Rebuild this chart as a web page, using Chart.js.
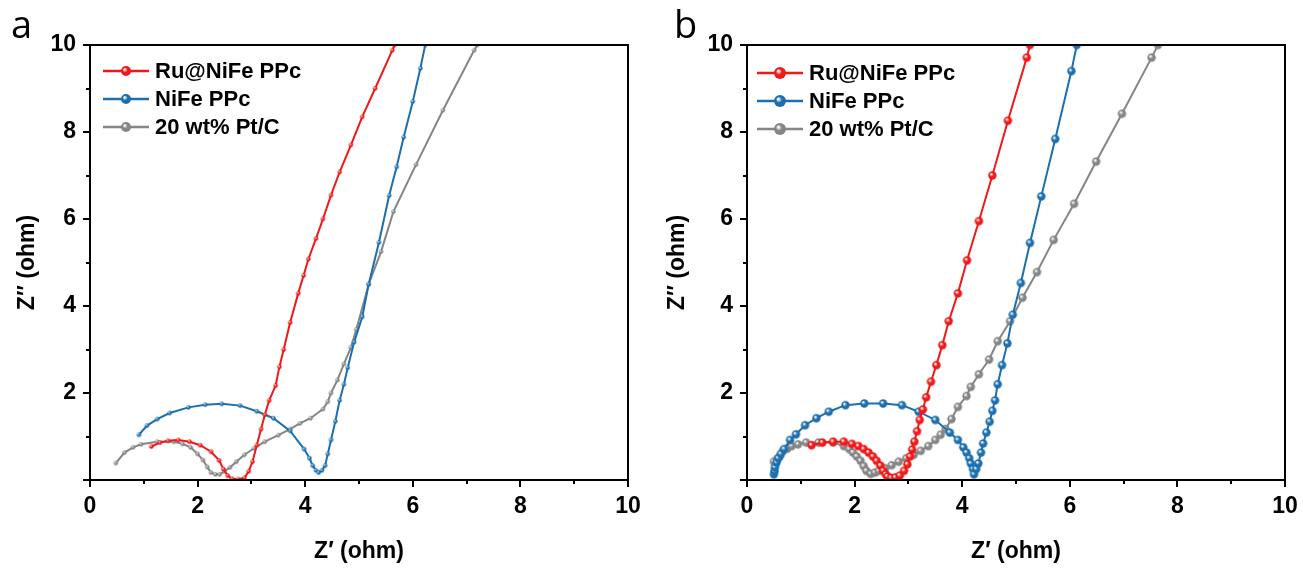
<!DOCTYPE html>
<html lang="en">
<head>
  <meta charset="UTF-8">
  <title>Nyquist plots</title>
  <script src="https://cdn.jsdelivr.net/npm/chart.js"></script>
  <style>
    body { margin: 0; background: #fff; }
    .panel { position: absolute; top: 0; height: 568px; }
    #panelA { left: 0; width: 650px; }
    #panelB { left: 650px; width: 653px; }
  </style>
</head>
<body>
  <div class="panel" id="panelA"><canvas id="chartA"></canvas></div>
  <div class="panel" id="panelB"><canvas id="chartB"></canvas></div>

  <script>
    // series names and colours
    const seriesNames = ['Ru@NiFe PPc', 'NiFe PPc', '20 wt% Pt/C'];
    const seriesColors = ['#f01818', '#1c6fae', '#858585'];
    const xTickLabels = [0, 2, 4, 6, 8, 10];
    const yTickLabels = [2, 4, 6, 8, 10];

    // panel a
    const redAX = [1.14, 1.3, 1.45, 1.64, 1.85, 2.05, 2.25, 2.4, 2.48, 2.56, 2.64, 2.75, 2.87, 2.95, 3.02, 3.1, 3.18, 3.25, 3.33, 3.45, 3.52, 3.6, 3.72, 3.87, 3.97, 4.06, 4.2, 4.33, 4.48, 4.64, 4.85, 5.06, 5.3, 5.62, 5.66];
    const redAY = [0.77, 0.86, 0.9, 0.92, 0.88, 0.8, 0.65, 0.45, 0.25, 0.1, 0.03, 0.02, 0.05, 0.2, 0.42, 0.8, 1.17, 1.5, 1.83, 2.17, 2.6, 3.0, 3.62, 4.29, 4.7, 5.08, 5.55, 6.0, 6.55, 7.08, 7.7, 8.35, 9.0, 9.88, 10.0];
    const blueAX = [0.91, 1.06, 1.25, 1.48, 1.83, 2.14, 2.45, 2.79, 3.1, 3.41, 3.72, 3.98, 4.08, 4.14, 4.2, 4.25, 4.31, 4.37, 4.42, 4.48, 4.56, 4.64, 4.72, 4.79, 4.91, 5.06, 5.18, 5.37, 5.56, 5.7, 5.83, 6.0, 6.14, 6.23];
    const blueAY = [1.04, 1.25, 1.4, 1.54, 1.67, 1.73, 1.75, 1.71, 1.58, 1.42, 1.13, 0.71, 0.5, 0.33, 0.22, 0.17, 0.22, 0.33, 0.6, 0.92, 1.35, 1.83, 2.2, 2.58, 3.17, 3.75, 4.5, 5.46, 6.54, 7.2, 7.88, 8.7, 9.46, 10.0];
    const grayAX = [0.48, 0.64, 0.8, 0.95, 1.25, 1.56, 1.72, 1.87, 2.0, 2.1, 2.18, 2.25, 2.33, 2.41, 2.5, 2.6, 2.72, 2.87, 3.05, 3.25, 3.5, 3.72, 3.9, 4.1, 4.33, 4.42, 4.48, 4.6, 4.72, 4.85, 4.95, 5.18, 5.41, 5.64, 6.06, 6.56, 7.14, 7.2];
    const grayAY = [0.39, 0.63, 0.75, 0.82, 0.88, 0.88, 0.83, 0.75, 0.6, 0.46, 0.3, 0.17, 0.13, 0.13, 0.2, 0.29, 0.42, 0.58, 0.73, 0.88, 1.03, 1.17, 1.3, 1.42, 1.63, 1.8, 2.0, 2.3, 2.67, 3.05, 3.46, 4.5, 5.25, 6.17, 7.25, 8.5, 9.88, 10.0];

    // panel b
    const redBX = [1.2, 1.4, 1.6, 1.8, 1.95, 2.07, 2.17, 2.26, 2.34, 2.41, 2.48, 2.53, 2.58, 2.61, 2.68, 2.76, 2.84, 2.92, 2.98, 3.03, 3.07, 3.11, 3.16, 3.21, 3.27, 3.33, 3.42, 3.52, 3.63, 3.75, 3.92, 4.09, 4.31, 4.56, 4.85, 5.2, 5.26];
    const redBY = [0.8, 0.86, 0.88, 0.88, 0.83, 0.78, 0.71, 0.63, 0.54, 0.44, 0.33, 0.21, 0.13, 0.08, 0.05, 0.06, 0.1, 0.21, 0.36, 0.54, 0.7, 0.88, 1.12, 1.38, 1.62, 1.9, 2.26, 2.64, 3.1, 3.65, 4.29, 5.05, 5.95, 7.0, 8.26, 9.71, 10.0];
    const blueBX = [0.5, 0.51, 0.52, 0.55, 0.58, 0.63, 0.69, 0.8, 0.91, 1.08, 1.29, 1.52, 1.83, 2.18, 2.53, 2.88, 3.19, 3.5, 3.77, 3.92, 4.02, 4.08, 4.13, 4.16, 4.2, 4.22, 4.26, 4.3, 4.35, 4.39, 4.45, 4.51, 4.56, 4.61, 4.66, 4.74, 4.84, 4.94, 5.09, 5.26, 5.47, 5.73, 6.03, 6.13];
    const blueBY = [0.13, 0.2, 0.29, 0.4, 0.5, 0.6, 0.71, 0.92, 1.05, 1.26, 1.42, 1.57, 1.72, 1.76, 1.76, 1.72, 1.57, 1.38, 1.09, 0.92, 0.75, 0.63, 0.5, 0.38, 0.25, 0.13, 0.25, 0.38, 0.63, 0.84, 1.09, 1.34, 1.59, 1.83, 2.2, 2.64, 3.14, 3.8, 4.53, 5.45, 6.52, 7.84, 9.4, 10.0];
    const grayBX = [0.5, 0.56, 0.61, 0.67, 0.75, 0.83, 0.95, 1.1, 1.33, 1.6, 1.8, 1.9, 1.97, 2.04, 2.11, 2.17, 2.22, 2.3, 2.38, 2.45, 2.57, 2.69, 2.82, 2.96, 3.1, 3.23, 3.37, 3.5, 3.6, 3.69, 3.8, 3.92, 4.08, 4.16, 4.31, 4.5, 4.66, 4.89, 5.12, 5.39, 5.7, 6.08, 6.49, 6.97, 7.52, 7.64];
    const grayBY = [0.42, 0.48, 0.54, 0.67, 0.72, 0.78, 0.82, 0.86, 0.86, 0.86, 0.78, 0.71, 0.63, 0.54, 0.44, 0.32, 0.21, 0.14, 0.17, 0.21, 0.27, 0.34, 0.42, 0.5, 0.58, 0.67, 0.78, 0.92, 1.04, 1.17, 1.4, 1.68, 1.93, 2.14, 2.43, 2.77, 3.19, 3.65, 4.19, 4.78, 5.52, 6.35, 7.32, 8.42, 9.71, 10.0];

    const toPoints = (xs, ys) => xs.map((x, i) => ({ x: x, y: ys[i] }));

    // little shaded balls for the markers
    const makeBall = (color, r) => {
      const c = document.createElement('canvas');
      c.width = c.height = Math.ceil(r * 2 + 2);
      const g = c.getContext('2d');
      const cx = c.width / 2;
      const grad = g.createRadialGradient(cx - r * 0.3, cx - r * 0.35, r * 0.1, cx, cx, r);
      grad.addColorStop(0, '#ffffff');
      grad.addColorStop(0.45, color);
      grad.addColorStop(1, color);
      g.fillStyle = grad;
      g.beginPath();
      g.arc(cx, cx, r, 0, Math.PI * 2);
      g.fill();
      return c;
    };

    const frameAndLegend = {
      id: 'frameAndLegend',
      afterDraw(chart, args, opts) {
        const { ctx, chartArea, scales } = chart;
        const { left, right, top, bottom } = chartArea;
        ctx.save();
        ctx.strokeStyle = '#000';
        ctx.lineWidth = 2;
        ctx.strokeRect(left, top, right - left, bottom - top);

        // tick marks, long on even values, short on odd
        ctx.beginPath();
        for (let v = 0; v <= 10; v++) {
          const len = v % 2 === 0 ? 7 : 4;
          const px = Math.round(scales.x.getPixelForValue(v));
          ctx.moveTo(px, bottom);
          ctx.lineTo(px, bottom + len);
          const py = Math.round(scales.y.getPixelForValue(v));
          ctx.moveTo(left, py);
          ctx.lineTo(left - len, py);
        }
        ctx.stroke();

        // panel letter
        ctx.fillStyle = '#000';
        ctx.font = '38px "Open Sans", sans-serif';
        ctx.textBaseline = 'alphabetic';
        ctx.fillText(opts.letter, opts.letterX, 38);

        // legend
        ctx.font = 'bold 22px "Liberation Sans", Arial, sans-serif';
        ctx.textBaseline = 'middle';
        seriesNames.forEach((name, i) => {
          const y = opts.legendY + i * opts.legendGap;
          ctx.strokeStyle = seriesColors[i];
          ctx.lineWidth = 2.5;
          ctx.beginPath();
          ctx.moveTo(opts.legendX, y);
          ctx.lineTo(opts.legendX + 46, y);
          ctx.stroke();
          const ball = opts.balls[i];
          ctx.drawImage(ball, opts.legendX + 23 - ball.width / 2, y - ball.height / 2);
          ctx.fillStyle = '#000';
          ctx.fillText(name, opts.legendX + 52, y + 1);
        });
        ctx.restore();
      }
    };

    const makeChart = (id, data, r, opts) => {
      const balls = seriesColors.map(c => makeBall(c, r));
      const legendBalls = seriesColors.map(c => makeBall(c, opts.legendR));
      const tickFont = { family: '"Liberation Sans", Arial, sans-serif', size: 23, weight: 'bold' };
      return new Chart(document.getElementById(id), {
        type: 'scatter',
        data: {
          datasets: data.map((pts, i) => ({
            label: seriesNames[i],
            data: pts,
            showLine: true,
            borderColor: seriesColors[i],
            borderWidth: 2,
            pointStyle: balls[i],
            pointRadius: r,
            pointHoverRadius: r
          }))
        },
        options: {
          responsive: true,
          maintainAspectRatio: false,
          animation: false,
          layout: { padding: { top: 45, right: opts.right, left: 0, bottom: 0 } },
          plugins: {
            legend: { display: false },
            tooltip: { enabled: false },
            frameAndLegend: Object.assign({ balls: legendBalls }, opts)
          },
          scales: {
            x: {
              type: 'linear', min: 0, max: 10,
              grid: { drawOnChartArea: false, drawTicks: false },
              border: { display: false },
              ticks: {
                stepSize: 1, color: '#000', font: tickFont, padding: 13, maxRotation: 0,
                callback: v => xTickLabels.includes(v) ? String(v) : ''
              },
              title: {
                display: true, text: 'Z\u2032 (ohm)', color: '#000', font: tickFont,
                padding: { top: 0, bottom: 3 }
              },
              afterFit: s => { s.height = 88; s.paddingLeft = 0; s.paddingRight = 0; }
            },
            y: {
              type: 'linear', min: 0, max: 10,
              grid: { drawOnChartArea: false, drawTicks: false },
              border: { display: false },
              ticks: {
                stepSize: 1, color: '#000', font: tickFont, padding: 14,
                callback: v => yTickLabels.includes(v) ? String(v) : ''
              },
              title: {
                display: true, text: 'Z\u2032\u2032 (ohm)', color: '#000', font: tickFont,
                padding: { top: 14, bottom: 0 }
              },
              afterFit: s => { s.width = opts.left; s.paddingTop = 0; s.paddingBottom = 0; }
            }
          }
        },
        plugins: [frameAndLegend]
      });
    };

    makeChart('chartA', [
      toPoints(redAX, redAY), toPoints(blueAX, blueAY), toPoints(grayAX, grayAY)
    ], 2.2, { left: 90, right: 22, letter: 'a', letterX: 11, legendX: 103, legendY: 71, legendGap: 28, legendR: 5 });

    makeChart('chartB', [
      toPoints(redBX, redBY), toPoints(blueBX, blueBY), toPoints(grayBX, grayBY)
    ], 4.2, { left: 97, right: 18, letter: 'b', letterX: 24, legendX: 107, legendY: 73, legendGap: 28, legendR: 6 });
  </script>
</body>
</html>
